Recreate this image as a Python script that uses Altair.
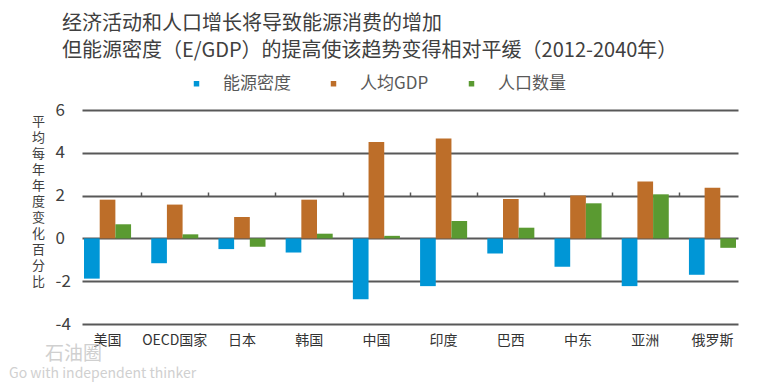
import altair as alt
import pandas as pd

# ---- data ----
categories = ["美国", "OECD国家", "日本", "韩国", "中国", "印度", "巴西", "中东", "亚洲", "俄罗斯"]
series = ["能源密度", "人均GDP", "人口数量"]
energy_intensity = [-1.88, -1.16, -0.50, -0.66, -2.84, -2.23, -0.70, -1.33, -2.23, -1.70]
gdp_per_capita = [1.81, 1.58, 1.00, 1.81, 4.51, 4.67, 1.84, 2.00, 2.66, 2.37]
population = [0.66, 0.19, -0.39, 0.22, 0.12, 0.81, 0.50, 1.64, 2.06, -0.44]
colors = ["#0096D6", "#BD6E29", "#5A9A31"]
y_ticks = [-4, -2, 0, 2, 4, 6]
title_lines = ["经济活动和人口增长将导致能源消费的增加",
               "但能源密度（E/GDP）的提高使该趋势变得相对平缓（2012-2040年）"]
y_title = "平均每年年度变化百分比"
watermark = ["石油圈", "Go with independent thinker"]

rows = []
for i, c in enumerate(categories):
    for s, vals in zip(series, [energy_intensity, gdp_per_capita, population]):
        rows.append({"region": c, "series": s, "value": vals[i]})
df = pd.DataFrame(rows)

FONT = "Noto Sans CJK SC"

x_scale = alt.Scale(domain=categories, paddingInner=0.3, paddingOuter=0.03)

bars = alt.Chart(df).mark_bar().encode(
    x=alt.X("region:N", sort=categories, scale=x_scale,
            axis=alt.Axis(title=None, labelAngle=0, labelFontSize=14, labelColor="#333333",
                          labelFont=FONT, labelPadding=9, ticks=False, domain=False, grid=False)),
    xOffset=alt.XOffset("series:N", sort=series,
                        scale=alt.Scale(domain=series, paddingInner=0, paddingOuter=0)),
    y=alt.Y("value:Q",
            scale=alt.Scale(domain=[-4, 6], nice=False, zero=False),
            axis=alt.Axis(values=y_ticks, title=list(y_title), titleAngle=0,
                          titleX=-44, titleY=5, titleAlign="center", titleBaseline="top",
                          titleLineHeight=16, titleFontSize=13, titleFont=FONT,
                          titleFontWeight="normal", titleColor="#404040",
                          labelFontSize=17, labelColor="#404040", labelFont=FONT,
                          labelExpr="datum.value < 0 ? '-' + abs(datum.value) : '' + datum.value",
                          labelAlign="left", labelPadding=27, ticks=False, tickSize=0,
                          domain=False, grid=True, gridColor="#585858", gridWidth=1.8)),
    color=alt.Color("series:N", sort=series,
                    scale=alt.Scale(domain=series, range=colors),
                    legend=alt.Legend(title=None, orient="none", direction="horizontal",
                                      legendX=106, legendY=-35, symbolType="square",
                                      symbolSize=30, symbolStrokeWidth=0,
                                      labelFontSize=17, labelColor="#595959", labelFont=FONT,
                                      labelOffset=18, columnPadding=34, padding=0)),
)

zero_ticks = alt.Chart(df).mark_point(opacity=0).encode(
    x=alt.X("region:N", sort=categories, scale=x_scale,
            axis=alt.Axis(title=None, labels=False, domain=False, grid=False, ticks=True,
                          tickSize=4, tickColor="#585858", tickWidth=1.5, offset=-86,
                          bandPosition=1, tickOffset=10,
                          tickOpacity={"condition": {"test": "datum.value === '俄罗斯'", "value": 0},
                                       "value": 1})),
)

wm1 = alt.Chart(pd.DataFrame({"t": [watermark[0]]})).mark_text(
    align="left", baseline="middle", fontSize=19, font=FONT, color="#d0d0d0"
).encode(x=alt.value(-37), y=alt.value(244), text="t:N")

wm2 = alt.Chart(pd.DataFrame({"t": [watermark[1]]})).mark_text(
    align="left", baseline="middle", fontSize=14, font=FONT, color="#d0d0d0"
).encode(x=alt.value(-73), y=alt.value(264), text="t:N")

chart = alt.layer(bars, zero_ticks, wm1, wm2).resolve_axis(x="independent").properties(
    width=656, height=214,
    autosize=alt.AutoSizeParams(type="none"),
    padding={"left": 74, "top": 102, "right": 20, "bottom": 62},
    title=alt.TitleParams(text=title_lines, anchor="start", fontSize=20, font=FONT,
                          color="#404040", fontWeight="normal", lineHeight=27,
                          dx=-20, dy=36, offset=50, frame="group"),
).configure_view(stroke=None)

chart.save("out.html", embed_options={"renderer": "svg", "actions": False})
